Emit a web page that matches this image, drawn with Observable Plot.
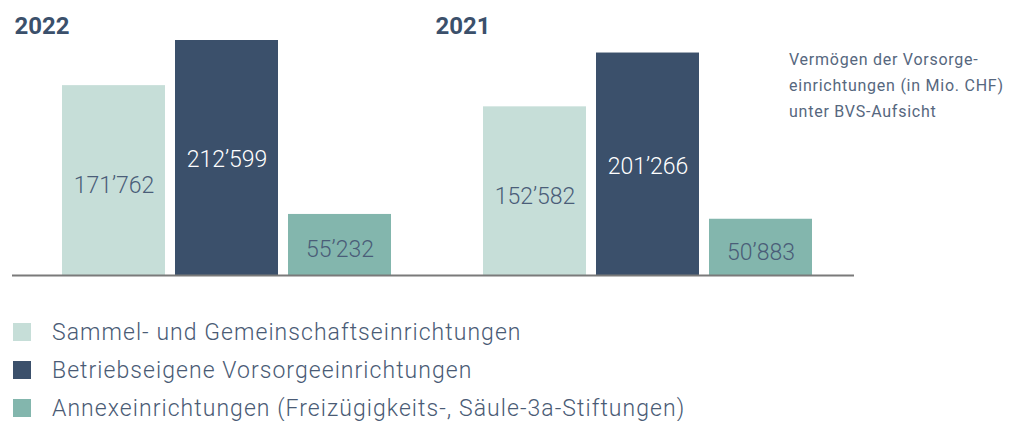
<!DOCTYPE html>
<html>
<head>
<meta charset="utf-8">
<script src="https://cdn.jsdelivr.net/npm/d3@7"></script>
<script src="https://cdn.jsdelivr.net/npm/@observablehq/plot@0.6"></script>
<style>
  html, body { margin: 0; padding: 0; background: #fff; }
  #wrap { position: relative; width: 1017px; height: 421px; font-family: Roboto, "Open Sans", sans-serif; }
  #note { position: absolute; left: 789px; top: 47px; font-size: 16px; line-height: 26px; color: #56677e; letter-spacing: 0.75px; font-weight: 400; }
  #legend { position: absolute; left: 13px; top: 313px; }
  .row { display: flex; align-items: center; height: 38px; }
  .sw { width: 18px; height: 18px; margin-right: 21px; flex: none; }
  .lab { font-size: 23px; line-height: 1; font-weight: 300; color: #4a5b75; letter-spacing: 1.05px; white-space: nowrap; }
</style>
</head>
<body>
<div id="wrap">
  <div id="chart"></div>
  <div id="note"></div>
  <div id="legend"></div>
</div>
<script>
const years = ["2022", "2021"];
const categories = [
  "Sammel- und Gemeinschaftseinrichtungen",
  "Betriebseigene Vorsorgeeinrichtungen",
  "Annexeinrichtungen (Freizügigkeits-, Säule-3a-Stiftungen)"
];
const values2022 = [171762, 212599, 55232];
const values2021 = [152582, 201266, 50883];
const colors = ["#c6ded8", "#3b506b", "#83b6ad"];
const noteLines = ["Vermögen der Vorsorge-", "einrichtungen (in Mio. CHF)", "unter BVS-Aufsicht"];

const data = [];
years.forEach((yr, i) => {
  const vals = i === 0 ? values2022 : values2021;
  categories.forEach((c, j) => data.push({year: yr, category: c, value: vals[j]}));
});

const fmt = d3.formatLocale({decimal: ".", thousands: "’", grouping: [3], currency: ["", ""]}).format(",d");
const maxV = d3.max(data, d => d.value);

const chart = Plot.plot({
  width: 1017,
  height: 285,
  marginTop: 40,
  marginBottom: 10,
  marginLeft: 12,
  marginRight: 163,
  style: {fontFamily: "Roboto, sans-serif", background: "transparent", overflow: "visible"},
  fx: {domain: years, padding: 0, axis: null},
  x: {domain: categories, paddingInner: 0.09, paddingOuter: 0.4, align: 0.542, axis: null},
  y: {domain: [0, maxV], axis: null},
  color: {domain: categories, range: colors},
  marks: [
    Plot.barY(data, {fx: "year", x: "category", y: "value", fill: "category", inset: 0}),
    Plot.ruleY([0], {stroke: "#7a7a7a", strokeWidth: 2}),
    Plot.text(data.filter(d => d.category !== categories[1]), {
      fx: "year", x: "category", y: d => d.value / 2, text: d => fmt(d.value),
      fill: "#4a5d78", fontSize: 23, fontWeight: 300, dy: 5
    }),
    Plot.text(data.filter(d => d.category === categories[1]), {
      fx: "year", x: "category", y: d => d.value / 2, text: d => fmt(d.value),
      fill: "#ffffff", fontSize: 23, fontWeight: 300, dy: 2
    }),
    Plot.text(years, {
      fx: d => d, text: d => d, frameAnchor: "top-left", textAnchor: "start",
      lineAnchor: "middle", dy: -14, dx: 2, fontSize: 24, fontWeight: 700, fill: "#3b506b"
    })
  ]
});
document.getElementById("chart").appendChild(chart);

const note = d3.select("#note");
noteLines.forEach(t => note.append("div").text(t));

const legend = d3.select("#legend");
categories.forEach((c, i) => {
  const row = legend.append("div").attr("class", "row");
  row.append("div").attr("class", "sw").style("background", colors[i]);
  row.append("div").attr("class", "lab").text(c);
});
</script>
</body>
</html>
